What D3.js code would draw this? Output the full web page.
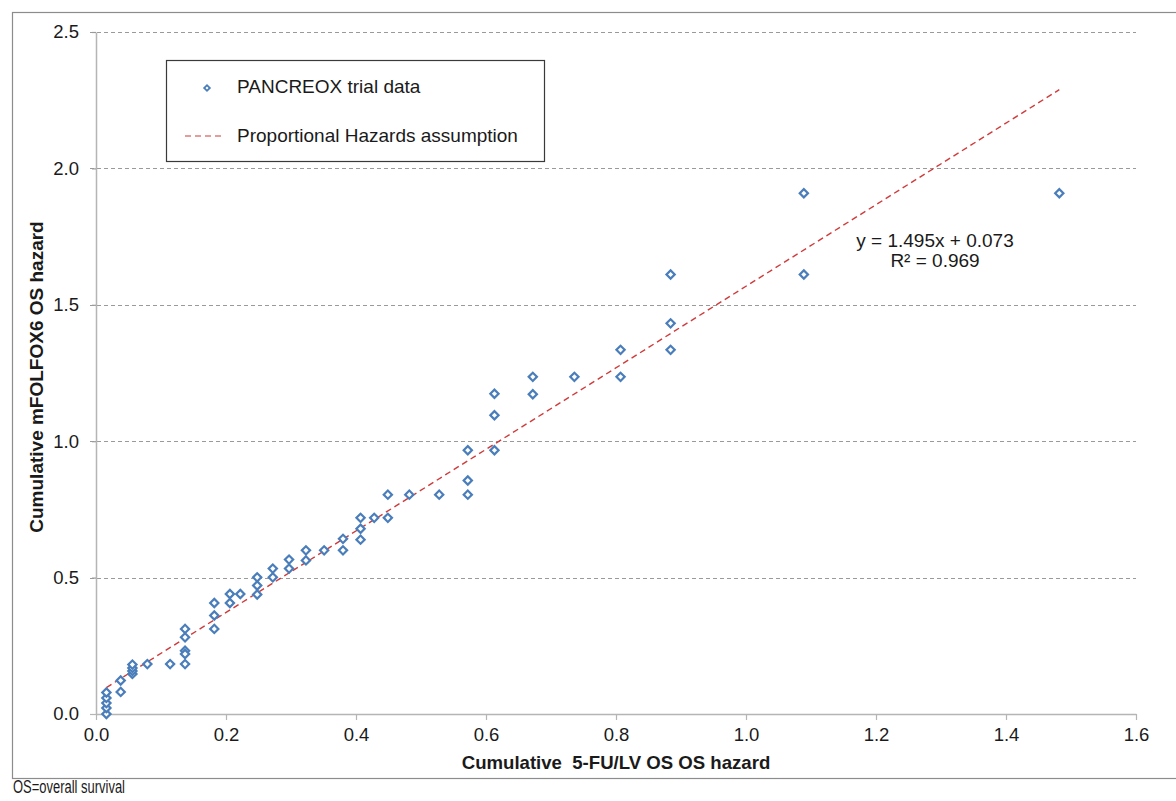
<!DOCTYPE html>
<html><head><meta charset="utf-8">
<script src="https://cdn.jsdelivr.net/npm/d3@7"></script>
<style>
body{margin:0;background:#fff}
text{font-family:"Liberation Sans",Arial,Helvetica,sans-serif;fill:#1a1a1a}
</style>
</head><body>
<svg id="chart" width="1176" height="801"></svg>
<script>
// ---- data ----
const xValues = [0.016,0.016,0.016,0.016,0.016,0.038,0.038,0.056,0.056,0.056,0.056,0.079,0.114,
  0.137,0.137,0.137,0.137,0.137,0.182,0.182,0.182,0.206,0.206,0.222,0.248,0.248,0.248,
  0.272,0.272,0.297,0.297,0.323,0.323,0.351,0.380,0.380,0.407,0.407,0.407,0.428,0.449,0.449,
  0.482,0.528,0.572,0.572,0.572,0.613,0.613,0.613,0.672,0.672,0.736,0.807,0.807,
  0.884,0.884,0.884,1.089,1.089,1.482];
const yValues = [0.000,0.022,0.040,0.059,0.079,0.081,0.123,0.147,0.158,0.169,0.181,0.183,0.183,
  0.312,0.281,0.232,0.220,0.183,0.407,0.361,0.312,0.440,0.407,0.440,0.501,0.471,0.438,
  0.533,0.501,0.566,0.533,0.600,0.563,0.600,0.642,0.600,0.719,0.679,0.639,0.719,0.804,0.719,
  0.804,0.804,0.967,0.856,0.804,1.174,1.095,0.967,1.236,1.172,1.236,1.335,1.236,
  1.611,1.432,1.335,1.909,1.611,1.909];
const xTicks = [0,0.2,0.4,0.6,0.8,1.0,1.2,1.4,1.6];
const yTicks = [0,0.5,1.0,1.5,2.0,2.5];
const slope = 1.495, intercept = 0.073, rSquared = 0.969;
const seriesName = "PANCREOX trial data";
const lineName = "Proportional Hazards assumption";
const xTitle = "Cumulative  5-FU/LV OS OS hazard";
const yTitle = "Cumulative mFOLFOX6 OS hazard";
const footnote = "OS=overall survival";

// ---- layout ----
const svg = d3.select("#chart");
const pLeft = 96, pRight = 1136, pTop = 32, pBottom = 714;
const x = d3.scaleLinear().domain([0,1.6]).range([pLeft,pRight]);
const y = d3.scaleLinear().domain([0,2.5]).range([pBottom,pTop]);

// outer frame
svg.append("rect").attr("x",12.5).attr("y",12.5).attr("width",1180).attr("height",766)
  .attr("fill","none").attr("stroke","#8c8c8c").attr("stroke-width",1.2);

// gridlines
svg.append("g").selectAll("line").data(yTicks.filter(d=>d>0)).join("line")
  .attr("x1",pLeft-6).attr("x2",pRight)
  .attr("y1",d=>Math.round(y(d))+0.5).attr("y2",d=>Math.round(y(d))+0.5)
  .attr("stroke","#9a9a9a").attr("stroke-width",1).attr("stroke-dasharray","4,3");

// axes
const fmt = d3.format(".1f");
const gx = svg.append("g").attr("transform",`translate(0,${pBottom})`)
  .call(d3.axisBottom(x).tickValues(xTicks).tickFormat(fmt).tickSize(6).tickSizeOuter(0).tickPadding(8));
const gy = svg.append("g").attr("transform",`translate(${pLeft},0)`)
  .call(d3.axisLeft(y).tickValues(yTicks).tickFormat(fmt).tickSize(6).tickSizeOuter(0).tickPadding(11));
[gx,gy].forEach(g=>{
  g.select(".domain").attr("stroke","#b5b5b5").attr("stroke-width",1.5);
  g.selectAll(".tick line").attr("stroke","#b5b5b5").attr("stroke-width",1.2);
  g.selectAll(".tick text").attr("font-size",18.5).attr("fill","#1a1a1a")
    .attr("font-family",'"Liberation Sans",Arial,sans-serif');
});
gy.selectAll(".tick").filter(d=>d>0).select("line").attr("stroke","#9a9a9a").attr("stroke-dasharray","4,3");

// regression line
const xMin = d3.min(xValues), xMax = d3.max(xValues);
svg.append("path")
  .datum([xMin,xMax])
  .attr("d",d3.line().x(d=>x(d)).y(d=>y(slope*d+intercept)))
  .attr("fill","none").attr("stroke","#d03a3a").attr("stroke-width",1.4)
  .attr("stroke-dasharray","6,4");

// points (diamonds)
const diamond = d3.symbol().type(d3.symbolSquare).size(34);
const pts = xValues.map((v,i)=>({x:v,y:yValues[i]}));
svg.append("g").selectAll("path").data(pts).join("path")
  .attr("d",diamond)
  .attr("transform",d=>`translate(${x(d.x)},${y(d.y)}) rotate(45)`)
  .attr("fill","#ffffff").attr("stroke","#4a7ebb").attr("stroke-width",2.2);

// equation
svg.append("text").attr("x",935).attr("y",247).attr("text-anchor","middle").attr("font-size",19)
  .text(`y = ${slope}x + ${intercept}`);
svg.append("text").attr("x",935).attr("y",267).attr("text-anchor","middle").attr("font-size",19)
  .text(`R² = ${rSquared}`);

// legend
const lg = svg.append("g");
lg.append("rect").attr("x",166.5).attr("y",60.5).attr("width",378).attr("height",101)
  .attr("fill","#fff").attr("stroke","#3a3a3a").attr("stroke-width",1.2);
lg.append("path").attr("d",d3.symbol().type(d3.symbolSquare).size(16))
  .attr("transform","translate(207,88) rotate(45)")
  .attr("fill","#fff").attr("stroke","#4a7ebb").attr("stroke-width",1.8);
lg.append("text").attr("x",237).attr("y",93).attr("font-size",19).text(seriesName);
lg.append("line").attr("x1",185).attr("x2",223).attr("y1",136).attr("y2",136)
  .attr("stroke","#d03a3a").attr("stroke-width",1.2).attr("stroke-dasharray","6,4");
lg.append("text").attr("x",237).attr("y",142).attr("font-size",19).text(lineName);

// axis titles
svg.append("text").attr("x",616).attr("y",769).attr("text-anchor","middle")
  .attr("font-size",18.6).attr("font-weight","bold").attr("xml:space","preserve").text(xTitle);
svg.append("text").attr("transform","translate(36,377) rotate(-90)").attr("dy","0.35em")
  .attr("text-anchor","middle").attr("font-size",19).attr("font-weight","bold").text(yTitle);

// footnote
svg.append("text").attr("x",13).attr("y",793).attr("font-size",17.5)
  .attr("textLength",112).attr("lengthAdjust","spacingAndGlyphs").text(footnote);
</script>
</body></html>
